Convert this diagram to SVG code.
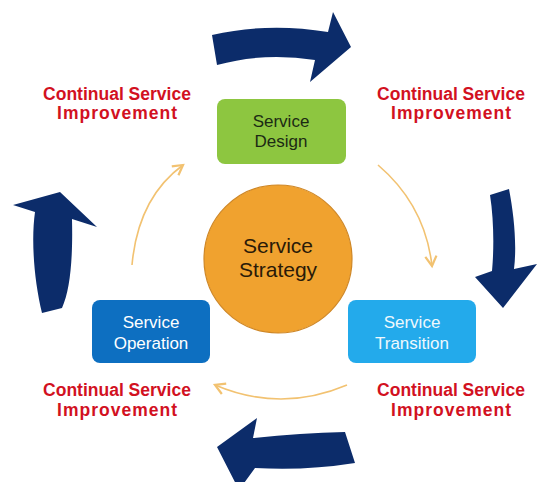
<svg xmlns="http://www.w3.org/2000/svg" width="543" height="482" viewBox="0 0 543 482">
<style>
.big{fill:#0c2c6a}
.csi{font-family:"Liberation Sans",Arial,sans-serif;font-weight:bold;font-size:17.5px;fill:#d2111f;text-anchor:middle}
.nt{font-family:"Liberation Sans",Arial,sans-serif;font-size:17px;text-anchor:middle}
.conn{fill:none;stroke:#f2c271;stroke-width:1.6}
</style>
<defs>
<marker id="ah" markerUnits="userSpaceOnUse" markerWidth="14" markerHeight="14" refX="8" refY="5" orient="auto" viewBox="0 0 10 10">
<path d="M1,1 L8,5 L1,9" fill="none" stroke="#f2c271" stroke-width="1.6"/>
</marker>
</defs>
<rect width="543" height="482" fill="#ffffff"/>
<g id="big-arrows">
<path class="big" d="M212,35 Q268,22 328,32 L333,12 L351,47 L310,82 L315,60 Q264,52 217,65 Z"/>
<path class="big" d="M490,195 L509,189 C514,215 517,245 514,269 L537,264 L503,308 L475,277 L492,271 C494,250 494,220 490,195 Z"/>
<path class="big" d="M345,432 L355,463 Q305,471 255,468 L239,490 L217,447 L257,418 L253,438 Q300,433 345,432 Z"/>
<path class="big" d="M42,313 L62,308 C70,290 73,260 72,219 L97,227 L60,192 L13,205 L35,212 C31,240 34,280 42,313 Z"/>
</g>
<g id="connectors">
<path class="conn" d="M132,265 Q138,198 183,165" marker-end="url(#ah)"/>
<path class="conn" d="M378,165 Q425,205 432,266" marker-end="url(#ah)"/>
<path class="conn" d="M347,385 Q281,413 215,385" marker-end="url(#ah)"/>
</g>
<g id="csi-top-left">
<text class="csi" x="117" y="100">Continual Service</text>
<text class="csi" x="117" y="119" textLength="120" lengthAdjust="spacing">Improvement</text>
</g>
<g id="csi-top-right">
<text class="csi" x="451" y="100">Continual Service</text>
<text class="csi" x="451" y="119" textLength="120" lengthAdjust="spacing">Improvement</text>
</g>
<g id="csi-bottom-left">
<text class="csi" x="117" y="396">Continual Service</text>
<text class="csi" x="117" y="416" textLength="120" lengthAdjust="spacing">Improvement</text>
</g>
<g id="csi-bottom-right">
<text class="csi" x="451" y="396">Continual Service</text>
<text class="csi" x="451" y="416" textLength="120" lengthAdjust="spacing">Improvement</text>
</g>
<g id="service-design">
<rect x="217" y="99" width="129" height="65" rx="8" fill="#8dc640"/>
<text class="nt" x="281" y="127" fill="#1c2a14">Service</text>
<text class="nt" x="281" y="147" fill="#1c2a14">Design</text>
</g>
<g id="service-strategy">
<circle cx="278" cy="259" r="74" fill="#f0a22f" stroke="#cf8726" stroke-width="1.2"/>
<text class="nt" x="278" y="253" fill="#2a1a08" style="font-size:21px">Service</text>
<text class="nt" x="278" y="277" fill="#2a1a08" style="font-size:21px">Strategy</text>
</g>
<g id="service-operation">
<rect x="92" y="300" width="118" height="63" rx="8" fill="#0d6fc1"/>
<text class="nt" x="151" y="328" fill="#ffffff">Service</text>
<text class="nt" x="151" y="349" fill="#ffffff">Operation</text>
</g>
<g id="service-transition">
<rect x="348" y="300" width="128" height="63" rx="8" fill="#23aaeb"/>
<text class="nt" x="412" y="328" fill="#eef8fd">Service</text>
<text class="nt" x="412" y="349" fill="#eef8fd">Transition</text>
</g>
</svg>
